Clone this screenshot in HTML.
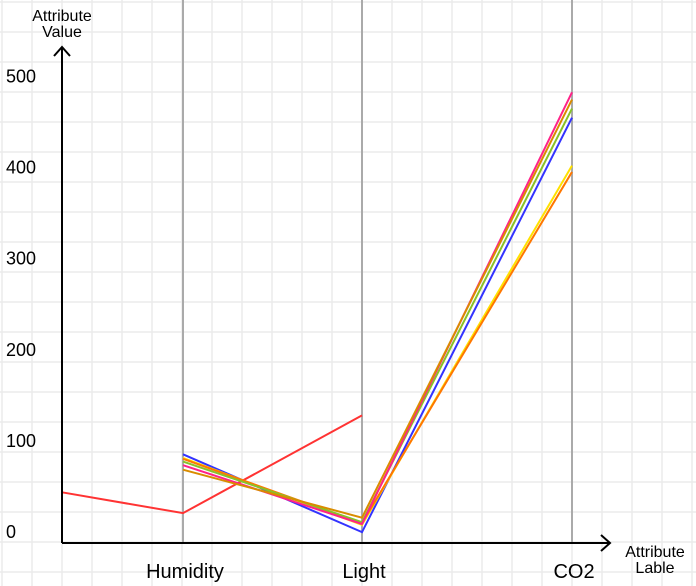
<!DOCTYPE html>
<html><head><meta charset="utf-8"><style>
body{margin:0;background:#fff;}
svg{display:block;font-family:"Liberation Sans",Arial,sans-serif;}
</style></head><body>
<svg id="chart" width="696" height="586"></svg>
<script>
const dimensions = ["", "Humidity", "Light", "CO2"];
const yTicks = [0, 100, 200, 300, 400, 500];
const seriesNames = ["blue", "yellow", "orange", "green", "pink", "dark-orange"];
const seriesColors = ["#3333ff", "#ffe100", "#ff7700", "#88c22a", "#ff2288", "#d98c00"];
const blueValues = [null, 98, 12, 470];
const yellowValues = [null, 94, 20, 417];
const orangeValues = [null, 93, 22, 410];
const greenValues = [null, 90, 23, 480];
const pinkValues = [null, 86, 21, 498];
const darkOrangeValues = [null, 81, 28, 490];
const redValues = [56, 33, 141, null];

const svg = document.getElementById('chart');
const NS = 'http://www.w3.org/2000/svg';
function mk(tag, attrs, parent) {
  const e = document.createElementNS(NS, tag);
  for (const k in attrs) e.setAttribute(k, attrs[k]);
  (parent || svg).appendChild(e);
  return e;
}
const axisX = [62, 183, 362, 572];
const x = i => axisX[i];
const y = v => 543 - v * 0.905;

const grid = mk('g', {});


for (let gx = 2; gx < 696; gx += 30) mk('line', {x1: gx, y1: 0, x2: gx, y2: 586, stroke: '#ebebeb', 'stroke-width': 1.5}, grid);
for (let gy = 2; gy < 586; gy += 30) mk('line', {x1: 0, y1: gy, x2: 696, y2: gy, stroke: '#ebebeb', 'stroke-width': 1.5}, grid);

for (let i = 1; i < dimensions.length; i++) {
  const l = mk('line', {x1: x(i), y1: 0, x2: x(i), y2: 543, stroke: '#aaaaaa', 'stroke-width': 2});
  
  
  const t = mk('text', {x: x(i) + 2, y: 578, 'font-size': 20, 'text-anchor': 'middle', fill: '#000'});
  t.textContent = dimensions[i];
  
  
}

yTicks.forEach(v => {
  const t = mk('text', {x: 6, y: y(v) - 5 - v * 0.006, 'font-size': 18, fill: '#000'});
  t.textContent = v;
  
  
});

const allSeries = [blueValues, yellowValues, orangeValues, greenValues, pinkValues, darkOrangeValues];
function drawSeries(vals, color, name) {
  const pts = [];
  vals.forEach((v, i) => { if (v !== null) pts.push(x(i) + ',' + y(v)); });
  const p = mk('polyline', {points: pts.join(' '), fill: 'none', stroke: color, 'stroke-width': 2});
  
  
}
drawSeries(redValues, '#ff3333', 'red');
allSeries.forEach((s, i) => drawSeries(s, seriesColors[i], seriesNames[i]));

const xa = mk('path', {d: 'M62 543 H610 M601 535 L610 543 L601 551', fill: 'none', stroke: '#000', 'stroke-width': 2});


const ya = mk('path', {d: 'M62 543 V47 M54 56 L62 47 L70 56', fill: 'none', stroke: '#000', 'stroke-width': 2});



const yt = mk('text', {x: 62, y: 21, 'font-size': 16, 'text-anchor': 'middle'});
yt.innerHTML = '<tspan x="62" dy="0">Attribute</tspan><tspan x="62" dy="16">Value</tspan>';


const xt = mk('text', {x: 655, y: 557, 'font-size': 16, 'text-anchor': 'middle'});
xt.innerHTML = '<tspan x="655" dy="0">Attribute</tspan><tspan x="655" dy="16">Lable</tspan>';


</script>
</body></html>
